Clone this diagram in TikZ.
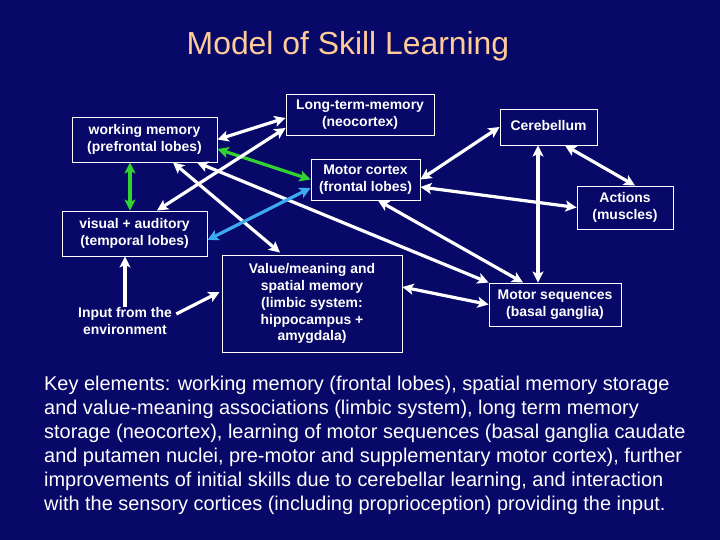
\documentclass[tikz,border=0pt]{standalone}
\usepackage{fontspec}
\setmainfont{Liberation Sans}
\usetikzlibrary{arrows.meta,calc}
\definecolor{bg}{RGB}{8,8,104}
\definecolor{titlecol}{RGB}{255,204,153}
\definecolor{grn}{RGB}{50,210,50}
\definecolor{blu}{RGB}{60,170,240}
\begin{document}
\begin{tikzpicture}[x=1bp,y=-1bp,
  box/.style={draw=white, line width=0.9bp, text=white, align=center, inner sep=0pt,
    font=\bfseries\fontsize{14}{17}\selectfont},
  arr/.style={draw=white, line width=3.2bp,
    {Stealth[length=11bp,width=11bp,inset=2.5bp]}-{Stealth[length=11bp,width=11bp,inset=2.5bp]}},
  oneway/.style={draw=white, line width=3.2bp, -{Stealth[length=11bp,width=11bp,inset=2.5bp]}}
]
\fill[bg] (0,0) rectangle (720,540);
\useasboundingbox (0,0) rectangle (720,540);

\node[text=titlecol, font=\fontsize{32}{38}\selectfont, anchor=base] (title) at (348,55) {Model of Skill Learning};

\node[box, minimum width=145bp, minimum height=45bp] (wm) at (144.5,139.5) {working memory\\(prefrontal lobes)};
\node[box, minimum width=148bp, minimum height=41bp] (ltm) at (360,114.5) {Long-term-memory\\(neocortex)};
\node[box, minimum width=109bp, minimum height=41bp] (mc) at (365.5,179.5) {Motor cortex\\(frontal lobes)};
\node[box, minimum width=145bp, minimum height=45bp] (vis) at (134.5,233.5) {visual + auditory\\(temporal lobes)};
\node[box, minimum width=180bp, minimum height=97bp] (val) at (312,303.5) {Value/meaning and\\spatial memory\\(limbic system:\\hippocampus +\\amygdala)};
\node[box, minimum width=97bp, minimum height=36bp] (cer) at (548.5,127) {\raisebox{4bp}{Cerebellum}};
\node[box, minimum width=96bp, minimum height=43bp] (act) at (625,207.5) {Actions\\(muscles)};
\node[box, minimum width=132bp, minimum height=43bp] (ms) at (555,304.5) {Motor sequences\\(basal ganglia)};
\node[box, draw=none] (inp) at (125,321) {Input from the\\environment};

% connectors
\draw[arr] (wm.east) -- ($(ltm.west)+(0,3.5)$);
\draw[arr, draw=grn] ($(wm.east)+(0,9.5)$) -- (mc.west);
\draw[arr, draw=grn] ($(wm.south)+(-14.5,0)$) -- ($(vis.north)+(-4.5,0)$);
\draw[arr] ($(ltm.west)+(0,13.5)$) -- ($(vis.north)+(22.5,0)$);
\draw[arr] ($(wm.south)+(28.5,0)$) -- ($(val.north)+(-32,-2)$);
\draw[arr] ($(wm.south)+(52.5,0)$) -- (ms.north west);
\draw[arr] ($(mc.south)+(12.5,0)$) -- ($(ms.north)+(-32,0)$);
\draw[arr] ($(val.east)+(0,-16.5)$) -- (ms.west);
\draw[arr] (cer.west) -- (mc.east);
\draw[arr] ($(mc.east)+(0,7.5)$) -- (act.west);
\draw[arr] ($(cer.south)+(16.5,0)$) -- ($(act.north)+(10,0)$);
\draw[arr] ($(cer.south)+(-10.5,0)$) -- ($(ms.north)+(-17,0)$);
\draw[arr, draw=blu] ($(vis.east)+(0,6.5)$) -- ($(mc.west)+(0,8.5)$);
\draw[oneway] (inp.north) -- ($(vis.south)+(-9.5,0)$);
\draw[oneway] ($(inp.north east)+(4,7)$) -- ($(val.west)+(-2,-11.5)$);

\node[text=white, anchor=north west, align=left, inner sep=0pt,
  font=\fontsize{20}{24}\selectfont] (key) at (44,376)
{Key elements: working memory (frontal lobes), spatial memory storage\\
and value-meaning associations (limbic system), long term memory\\
storage (neocortex), learning of motor sequences (basal ganglia caudate\\
and putamen nuclei, pre-motor and supplementary motor cortex), further\\
improvements of initial skills due to cerebellar learning, and interaction\\
with the sensory cortices (including proprioception) providing the input.};
\end{tikzpicture}
\end{document}
